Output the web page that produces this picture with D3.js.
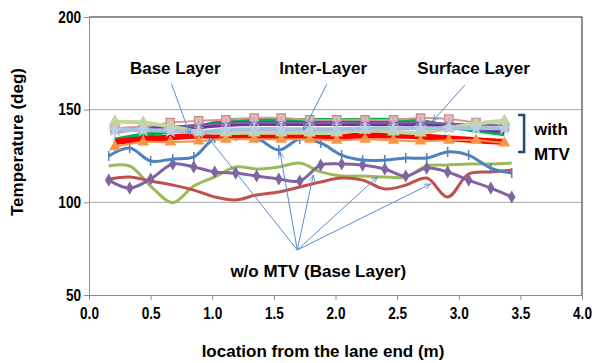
<!DOCTYPE html>
<html>
<head>
<meta charset="utf-8">
<script src="https://cdn.jsdelivr.net/npm/d3@7"></script>
<style>
  body { margin: 0; background: #fff; }
  svg { display: block; font-family: "Liberation Sans", Arial, sans-serif; }
</style>
</head>
<body>
<div id="chart"></div>
<script>
// x positions (m)
var baseX = [0.16,0.33,0.50,0.68,0.85,1.02,1.19,1.36,1.54,1.71,1.88,2.05,2.22,2.40,2.57,2.74,2.91,3.08,3.26,3.43];
var mtvX  = [0.21,0.44,0.66,0.89,1.11,1.34,1.56,1.79,2.01,2.24,2.47,2.69,2.92,3.14,3.37];

// w/o MTV (base layer) series
var woBlue   = [125.0,129.3,122.3,123.4,124.5,134.7,135.8,134.7,128.2,134.2,132.0,125.5,122.8,122.8,123.9,123.9,127.2,125.5,118.5,115.8];
var woGreen  = [119.6,119.6,108.8,99.8,108.8,113.7,119.1,118.0,119.1,121.2,116.4,114.2,114.2,113.7,113.7,119.6,120.1,120.7,120.7,121.2];
var woPurple = [112.0,107.7,112.6,120.7,119.1,116.4,115.8,114.2,112.6,111.5,120.1,120.7,120.1,118.0,114.2,118.5,116.4,112.0,107.7,102.9];
var woRed    = [112.6,113.7,111.5,109.3,106.6,102.9,101.3,104.0,105.6,108.3,111.0,113.1,112.0,107.2,109.3,113.1,102.9,115.3,116.4,117.4];

// with MTV series
var mtvGreen    = [133.6,136.3,138.5,140.6,143.9,144.2,144.2,144.2,144.2,144.2,144.2,143.5,141.0,139.0,137.0];
var mtvPurple   = [139.0,139.5,140.0,141.0,142.0,142.5,142.5,142.5,142.5,142.5,142.5,142.0,141.0,140.0,138.5];
var mtvRed      = [132.5,134.0,135.0,136.0,136.0,136.0,135.5,135.5,135.5,136.0,136.0,135.5,134.5,133.5,132.5];
var mtvOrange   = [130.0,132.5,132.5,133.0,134.0,134.0,134.0,134.0,133.5,134.0,133.5,133.0,133.5,133.5,132.0];
var mtvPink     = [140.0,141.0,143.0,144.0,144.5,145.5,145.5,144.5,144.5,144.5,144.5,145.5,145.0,143.0,141.0];
var mtvLavender = [138.0,139.0,140.0,141.5,142.5,143.0,143.0,143.0,143.0,143.0,143.0,143.0,142.5,142.0,141.5];
var mtvLtGreen  = [143.5,143.0,141.0,138.0,137.5,137.5,137.5,137.5,137.5,139.0,138.0,137.5,140.0,142.5,144.0];
var mtvLtBlue   = [139.0,139.0,138.5,138.0,139.0,139.5,139.5,139.5,139.5,140.0,140.0,140.0,140.0,140.0,140.0];

var xTicks = [0,0.5,1,1.5,2,2.5,3,3.5,4];
var yTicks = [50,100,150,200];

var width = 592, height = 363;
var svg = d3.select("#chart").append("svg")
    .attr("width", width)
    .attr("height", height);

var x = d3.scaleLinear().domain([0, 4]).range([89, 582]);
var y = d3.scaleLinear().domain([50, 200]).range([295, 17]);

// gridlines
svg.append("g").selectAll("line")
    .data([100, 150])
    .enter().append("line")
    .attr("x1", x(0)).attr("x2", x(4))
    .attr("y1", function(d){ return y(d); })
    .attr("y2", function(d){ return y(d); })
    .style("stroke", "#a6a6a6");

// plot border top/right
svg.append("path")
    .attr("d", "M" + x(0) + "," + y(200) + "H" + x(4) + "V" + y(50))
    .style("fill", "none")
    .style("stroke", "#222");

// axes
var xAxis = svg.append("g")
    .attr("transform", "translate(0," + y(50) + ")")
    .call(d3.axisBottom(x).tickValues(xTicks).tickSize(5).tickFormat(d3.format(".1f")));
var yAxis = svg.append("g")
    .attr("transform", "translate(" + x(0) + ",0)")
    .call(d3.axisLeft(y).tickValues(yTicks).tickSize(5));
[xAxis, yAxis].forEach(function(a){
    a.attr("font-family", null);
    a.selectAll("path, line").style("stroke", "#8c8c8c");
    a.selectAll("text")
        .style("font-size", "16px")
        .style("font-weight", "bold")
        .style("fill", "#000");
});
// tick labels in the reference are condensed
xAxis.selectAll("text").attr("dy", "1.0em").attr("transform", "scale(0.85,1)");
yAxis.selectAll("text").attr("x", -8 / 0.85).attr("transform", "scale(0.85,1)");

var curve = d3.curveCatmullRom.alpha(0.5);

function drawLine(xs, ys, color, w){
    var line = d3.line()
        .x(function(d, i){ return x(xs[i]); })
        .y(function(d){ return y(d); })
        .curve(curve);
    svg.append("path")
        .datum(ys)
        .attr("d", line)
        .style("fill", "none")
        .style("stroke", color)
        .style("stroke-width", w)
        .style("stroke-linejoin", "round");
}

function drawMarkers(xs, ys, type, size, fill, stroke){
    svg.append("g").selectAll("path")
        .data(ys)
        .enter().append("path")
        .attr("transform", function(d, i){ return "translate(" + x(xs[i]) + "," + y(d) + ")"; })
        .attr("d", d3.symbol().type(type).size(size))
        .style("fill", fill)
        .style("stroke", stroke || "none")
        .style("stroke-width", 1.2);
}

// w/o MTV
drawLine(baseX, woGreen, "#9bbb59", 3);
drawLine(baseX, woRed, "#c0504d", 3);
drawLine(baseX, woPurple, "#8064a2", 3);
drawMarkers(baseX, woPurple, d3.symbolDiamond, 50, "#8064a2");
drawLine(baseX, woBlue, "#4f81bd", 3);
svg.append("g").selectAll("line")
    .data(woBlue)
    .enter().append("line")
    .attr("x1", function(d, i){ return x(baseX[i]); })
    .attr("x2", function(d, i){ return x(baseX[i]); })
    .attr("y1", function(d){ return y(d) - 5; })
    .attr("y2", function(d){ return y(d) + 5; })
    .style("stroke", "#4f81bd")
    .style("stroke-width", 1.5);

// with MTV
var asterisk = d3.symbolAsterisk || d3.symbolCross;
drawLine(mtvX, mtvGreen, "#00b050", 5);
drawLine(mtvX, mtvPurple, "#7030a0", 5);
drawLine(mtvX, mtvRed, "#ff0000", 6);
drawLine(mtvX, mtvOrange, "#f79646", 2);
drawMarkers(mtvX, mtvOrange, d3.symbolTriangle, 60, "#f79646");
drawLine(mtvX, mtvPink, "#d99694", 2);
drawMarkers(mtvX, mtvPink, d3.symbolSquare, 70, "#e6b9b8", "#c48a88");
drawLine(mtvX, mtvLavender, "#8064a2", 2);
drawMarkers(mtvX, mtvLavender, asterisk, 90, "none", "#b3a2c7");
drawLine(mtvX, mtvLtGreen, "#c3d69b", 4);
drawMarkers(mtvX, mtvLtGreen, d3.symbolTriangle, 70, "#c3d69b");
drawLine(mtvX, mtvLtBlue, "#a6c0e0", 4);
drawMarkers(mtvX, mtvLtBlue, d3.symbolStar, 70, "#b9cde5");

// annotations (data units)
var leaderColor = "#5b8ccf";
svg.append("defs").append("marker")
    .attr("id", "arr")
    .attr("viewBox", "0 0 10 10")
    .attr("refX", 9).attr("refY", 5)
    .attr("markerWidth", 7).attr("markerHeight", 7)
    .attr("orient", "auto")
  .append("path")
    .attr("d", "M0,1L9,5L0,9")
    .style("fill", "none")
    .style("stroke", leaderColor)
    .style("stroke-width", 1.2);

var leaders = [
    [0.67, 163.8, 0.82, 136.3],
    [1.93, 163.8, 1.74, 139.0],
    [3.05, 163.3, 2.79, 143.9],
    [1.69, 74.3, 0.97, 134.7],
    [1.69, 74.3, 1.55, 127.2],
    [1.69, 74.3, 1.82, 114.7],
    [1.69, 74.3, 2.34, 113.7],
    [1.69, 74.3, 2.77, 109.9]
];
svg.append("g").selectAll("line")
    .data(leaders)
    .enter().append("line")
    .attr("x1", function(d){ return x(d[0]); })
    .attr("y1", function(d){ return y(d[1]); })
    .attr("x2", function(d){ return x(d[2]); })
    .attr("y2", function(d){ return y(d[3]); })
    .attr("marker-end", "url(#arr)")
    .style("stroke", leaderColor)
    .style("stroke-width", 1);

var labels = [
    {t: "Base Layer", x: 0.70, y: 169.2, a: "middle"},
    {t: "Inter-Layer", x: 1.90, y: 169.2, a: "middle"},
    {t: "Surface Layer", x: 3.12, y: 169.2, a: "middle"},
    {t: "with", x: 3.61, y: 136.3, a: "start"},
    {t: "MTV", x: 3.61, y: 122.8, a: "start"},
    {t: "w/o MTV (Base Layer)", x: 1.86, y: 59.7, a: "middle"}
];
svg.append("g").selectAll("text")
    .data(labels)
    .enter().append("text")
    .attr("x", function(d){ return x(d.x); })
    .attr("y", function(d){ return y(d.y); })
    .attr("text-anchor", function(d){ return d.a; })
    .style("font-size", "17px")
    .style("font-weight", "bold")
    .text(function(d){ return d.t; });

// bracket
svg.append("path")
    .attr("d", "M" + (x(3.53) - 6) + "," + y(147.1) + "H" + x(3.53) + "V" + y(127.2) + "H" + (x(3.53) - 6))
    .style("fill", "none")
    .style("stroke", "#1f497d")
    .style("stroke-width", 2.5);

// axis titles
svg.append("text")
    .attr("transform", "translate(23," + 142 + ") rotate(-90)")
    .attr("text-anchor", "middle")
    .style("font-size", "17px")
    .style("font-weight", "bold")
    .text("Temperature (deg)");
svg.append("text")
    .attr("x", 323).attr("y", 357)
    .attr("text-anchor", "middle")
    .style("font-size", "17px")
    .style("font-weight", "bold")
    .text("location from the lane end (m)");
</script>
</body>
</html>
